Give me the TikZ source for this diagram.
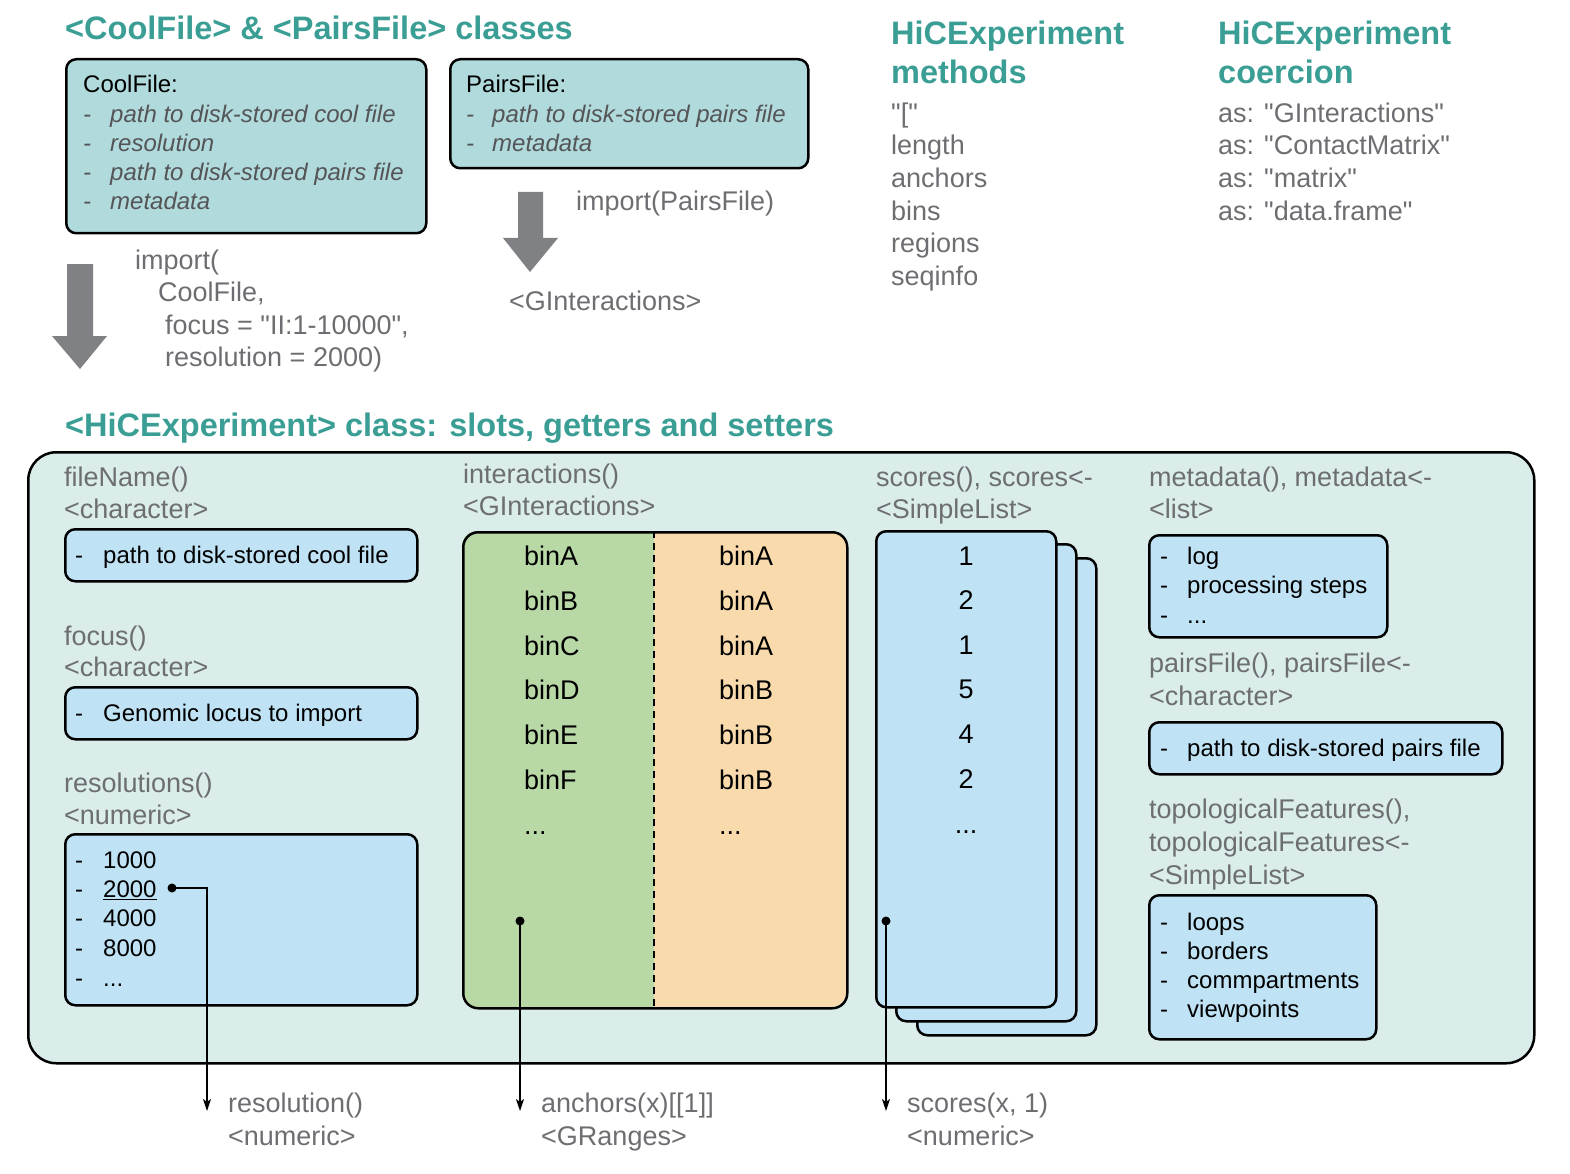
\documentclass[tikz,border=0pt]{standalone}
\usepackage{fontspec}
\setmainfont{Liberation Sans}
\newfontfamily\qf{Liberation Sans}
\usetikzlibrary{arrows.meta}
\definecolor{teal1}{RGB}{58,158,149}
\definecolor{gtext}{RGB}{109,110,114}
\definecolor{itgray}{RGB}{85,85,88}
\definecolor{coolfill}{RGB}{176,218,219}
\definecolor{contfill}{RGB}{218,237,235}
\definecolor{bluefill}{RGB}{191,227,245}
\definecolor{greenfill}{RGB}{184,216,166}
\definecolor{orangefill}{RGB}{249,218,172}
\definecolor{arrgray}{RGB}{128,129,132}
\newcommand{\mydots}{...}
\begin{document}
\begin{tikzpicture}[x=1pt,y=-1pt,
 ttl/.style={font=\bfseries\fontsize{32.5}{38}\selectfont, text=teal1, anchor=west, inner sep=0pt, text height=23.3pt, text depth=0pt},
 gt/.style={font=\qf\fontsize{27}{32}\selectfont, text=gtext, anchor=west, inner sep=0pt, text height=19.3pt, text depth=0pt},
 bt/.style={font=\fontsize{24}{29}\selectfont, text=black, anchor=west, inner sep=0pt, text height=17.2pt, text depth=0pt},
 bb/.style={font=\fontsize{27}{32}\selectfont, text=black, anchor=west, inner sep=0pt, text height=19.3pt, text depth=0pt},
 num/.style={bb, anchor=center},
 itx/.style={font=\itshape\fontsize{24}{29}\selectfont, text=itgray, anchor=west, inner sep=0pt, text height=17.2pt, text depth=0pt},
 box/.style={draw=black, line width=2.5pt, rounded corners=10pt, inner sep=0pt, anchor=north west},
 blockarrow/.style={fill=arrgray},
 conn/.style={line width=1.3pt, -{Stealth[length=12pt,width=8pt,inset=3pt]}},
 dotc/.style={fill=black},
]
\useasboundingbox (0,0) rectangle (1570,1174);

% ---------- top-left: file classes ----------
\node[ttl] (t1) at (65,28) {<CoolFile> \& <PairsFile> classes};

\node[box, fill=coolfill, minimum width=360pt, minimum height=174pt] (cool) at (65,58) {};
\node[bt] (coolh) at (83,84) {CoolFile:};
\node[itx] (cd1) at (83,114) {-}; \node[itx] (ct1) at (110,114) {path to disk-stored cool file};
\node[itx] (cd2) at (83,143) {-}; \node[itx] (ct2) at (110,143) {resolution};
\node[itx] (cd3) at (83,172) {-}; \node[itx] (ct3) at (110,172) {path to disk-stored pairs file};
\node[itx] (cd4) at (83,201) {-}; \node[itx] (ct4) at (110,201) {metadata};

\node[box, fill=coolfill, minimum width=358pt, minimum height=109pt] (pairs) at (449,58) {};
\node[bt] (pairsh) at (466,84) {PairsFile:};
\node[itx] (pd1) at (466,114) {-}; \node[itx] (pt1) at (492,114) {path to disk-stored pairs file};
\node[itx] (pd2) at (466,143) {-}; \node[itx] (pt2) at (492,143) {metadata};

% block arrows
\fill[blockarrow] (67,264) -- (93,264) -- (93,336) -- (107,336) -- (80,369) -- (52,336) -- (67,336) -- cycle;
\fill[blockarrow] (518,192) -- (543,192) -- (543,238) -- (558,238) -- (530,272) -- (503,238) -- (518,238) -- cycle;

\node[gt] (imp2) at (576,201) {import(PairsFile)};
\node[gt] (gi2) at (509,301) {<GInteractions>};
\node[gt] (imp1a) at (135,260) {import(};
\node[gt] (imp1b) at (158,292) {CoolFile,};
\node[gt] (imp1c) at (165,325) {focus = "II:1-10000",};
\node[gt] (imp1d) at (165,357) {resolution = 2000)};

% ---------- methods & coercion ----------
\node[ttl] (m1) at (891,33) {HiCExperiment};
\node[ttl] (m2) at (891,72) {methods};
\node[gt] (ml1) at (891,113) {"["};
\node[gt] (ml2) at (891,145) {length};
\node[gt] (ml3) at (891,178) {anchors};
\node[gt] (ml4) at (891,211) {bins};
\node[gt] (ml5) at (891,243) {regions};
\node[gt] (ml6) at (891,276) {seqinfo};

\node[ttl] (c1) at (1218,33) {HiCExperiment};
\node[ttl] (c2) at (1218,72) {coercion};
\node[gt] (cl1) at (1218,113) {as: "GInteractions"};
\node[gt] (cl2) at (1218,145) {as: "ContactMatrix"};
\node[gt] (cl3) at (1218,178) {as: "matrix"};
\node[gt] (cl4) at (1218,211) {as: "data.frame"};

% ---------- HiCExperiment class ----------
\node[ttl] (t2) at (65,425) {<HiCExperiment> class: slots, getters and setters};
\node[box, fill=contfill, rounded corners=28pt, minimum width=1506pt, minimum height=611pt] (cont) at (27,451) {};

% column 1
\node[gt] (fn1) at (64,477) {fileName()};
\node[gt] (fn2) at (64,509) {<character>};
\node[box, fill=bluefill, minimum width=352pt, minimum height=52pt] (fnbox) at (64,528) {};
\node[bt] (fnd) at (75,555) {-}; \node[bt] (fnt) at (103,555) {path to disk-stored cool file};

\node[gt] (fo1) at (64,636) {focus()};
\node[gt] (fo2) at (64,667) {<character>};
\node[box, fill=bluefill, minimum width=352pt, minimum height=52pt] (fobox) at (64,686) {};
\node[bt] (fod) at (75,713) {-}; \node[bt] (fot) at (103,713) {Genomic locus to import};

\node[gt] (re1) at (64,783) {resolutions()};
\node[gt] (re2) at (64,815) {<numeric>};
\node[box, fill=bluefill, minimum width=352pt, minimum height=171pt] (rebox) at (64,833) {};
\node[bt] (rd1) at (75,860) {-}; \node[bt] (rt1) at (103,860) {1000};
\node[bt] (rd2) at (75,889) {-}; \node[bt] (rt2) at (103,889) {\underline{2000}};
\node[bt] (rd3) at (75,918) {-}; \node[bt] (rt3) at (103,918) {4000};
\node[bt] (rd4) at (75,948) {-}; \node[bt] (rt4) at (103,948) {8000};
\node[bt] (rd5) at (75,978) {-}; \node[bt] (rt5) at (103,978) {...};

% column 2: interactions
\node[gt] (in1) at (463,474) {interactions()};
\node[gt] (in2) at (463,506) {<GInteractions>};
\begin{scope}
\clip[rounded corners=15pt] (462,531) rectangle (846,1007);
\fill[greenfill] (462,531) rectangle (654,1007);
\fill[orangefill] (654,531) rectangle (846,1007);
\end{scope}
\draw[line width=1.5pt, dash pattern=on 7pt off 5pt] (654,531) -- (654,1007);
\node[box, rounded corners=15pt, minimum width=384pt, minimum height=476pt] (inbox) at (462,531) {};
\foreach \t/\y [count=\i] in {binA/556, binB/601, binC/646, binD/690, binE/735, binF/780, \mydots/825}
  \node[bb] (la\i) at (524,\y) {\t};
\foreach \t/\y [count=\i] in {binA/556, binA/601, binA/646, binB/690, binB/735, binB/780, \mydots/825}
  \node[bb] (ra\i) at (719,\y) {\t};

% column 3: scores
\node[gt] (sc1) at (876,477) {scores(), scores<-};
\node[gt] (sc2) at (876,509) {<SimpleList>};
\node[box, fill=bluefill, minimum width=179pt, minimum height=477pt] (sb3) at (916,557) {};
\node[box, fill=bluefill, minimum width=180pt, minimum height=477pt] (sb2) at (895,543) {};
\node[box, fill=bluefill, minimum width=180pt, minimum height=476pt] (sb1) at (875,530) {};
\foreach \t/\y [count=\i] in {1/556, 2/600, 1/645, 5/689, 4/734, 2/779, \mydots/824}
  \node[num] (sn\i) at (966,\y) {\t};

% column 4
\node[gt] (md1) at (1149,477) {metadata(), metadata<-};
\node[gt] (md2) at (1149,509) {<list>};
\node[box, fill=bluefill, minimum width=238pt, minimum height=102pt] (mdbox) at (1148,534) {};
\node[bt] (mdd1) at (1160,556) {-}; \node[bt] (mdt1) at (1187,556) {log};
\node[bt] (mdd2) at (1160,585) {-}; \node[bt] (mdt2) at (1187,585) {processing steps};
\node[bt] (mdd3) at (1160,615) {-}; \node[bt] (mdt3) at (1187,615) {...};

\node[gt] (pf1) at (1149,663) {pairsFile(), pairsFile<-};
\node[gt] (pf2) at (1149,696) {<character>};
\node[box, fill=bluefill, minimum width=353pt, minimum height=52pt] (pfbox) at (1148,721) {};
\node[bt] (pfd) at (1160,748) {-}; \node[bt] (pft) at (1187,748) {path to disk-stored pairs file};

\node[gt] (tf1) at (1149,809) {topologicalFeatures(),};
\node[gt] (tf2) at (1149,842) {topologicalFeatures<-};
\node[gt] (tf3) at (1149,875) {<SimpleList>};
\node[box, fill=bluefill, minimum width=227pt, minimum height=144pt] (tfbox) at (1148,894) {};
\node[bt] (tfd1) at (1160,922) {-}; \node[bt] (tft1) at (1187,922) {loops};
\node[bt] (tfd2) at (1160,951) {-}; \node[bt] (tft2) at (1187,951) {borders};
\node[bt] (tfd3) at (1160,980) {-}; \node[bt] (tft3) at (1187,980) {commpartments};
\node[bt] (tfd4) at (1160,1009) {-}; \node[bt] (tft4) at (1187,1009) {viewpoints};

% ---------- getters below ----------
\coordinate (d1) at (172,888);
\coordinate (e1) at (207,1111);
\coordinate (d2) at (520,921);
\coordinate (e2) at (520,1111);
\coordinate (d3) at (886,921);
\coordinate (e3) at (886,1111);
\draw[conn] (d1) -| (e1);
\draw[conn] (d2) -- (e2);
\draw[conn] (d3) -- (e3);
\fill[dotc] (d1) circle (4.5);
\fill[dotc] (d2) circle (4.5);
\fill[dotc] (d3) circle (4.5);

\node[gt] (g1a) at (228,1103) {resolution()};
\node[gt] (g1b) at (228,1136) {<numeric>};
\node[gt] (g2a) at (541,1103) {anchors(x)[[1]]};
\node[gt] (g2b) at (541,1136) {<GRanges>};
\node[gt] (g3a) at (907,1103) {scores(x, 1)};
\node[gt] (g3b) at (907,1136) {<numeric>};
\end{tikzpicture}
\end{document}
